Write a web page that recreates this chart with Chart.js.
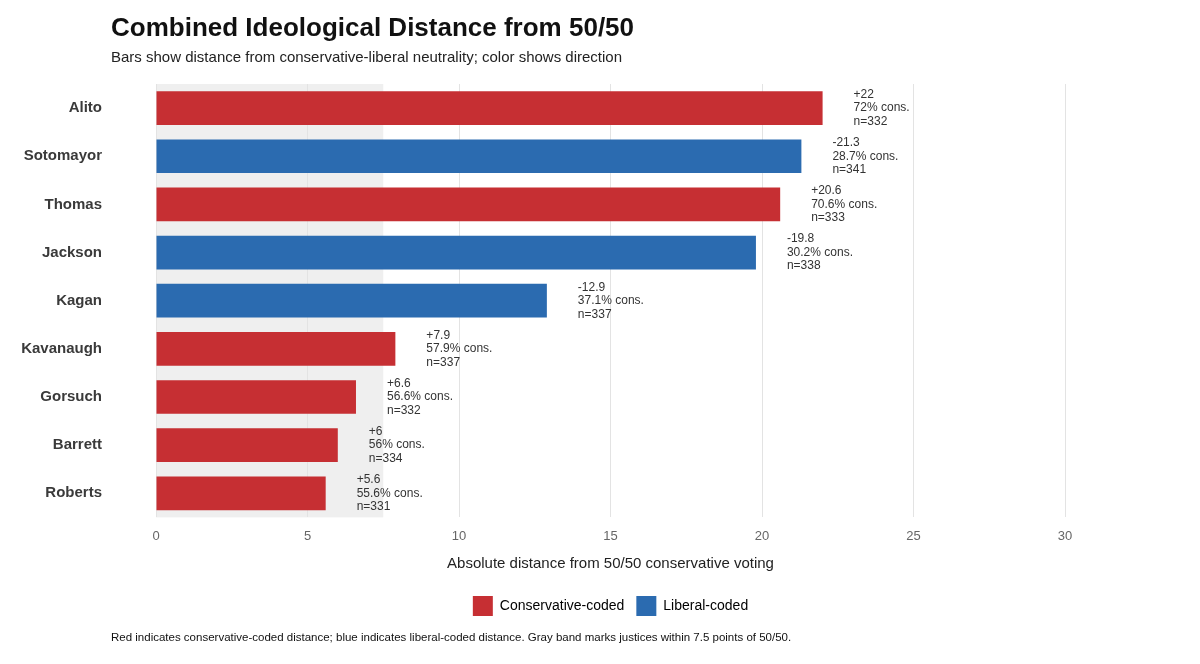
<!DOCTYPE html>
<html>
<head>
<meta charset="utf-8">
<script src="https://cdn.jsdelivr.net/npm/chart.js@4/dist/chart.umd.min.js"></script>
<style>
  html, body { margin: 0; padding: 0; background: #fff; }
  body { width: 1200px; height: 664px; position: relative; overflow: hidden; font-family: "Liberation Sans", Arial, sans-serif; }
  #wrap { position: absolute; left: 0; top: 0; width: 1200px; height: 664px; }
  .title { position: absolute; left: 111px; top: 12px; font-size: 26px; font-weight: bold; color: #111; white-space: nowrap; }
  .subtitle { position: absolute; left: 111px; top: 48px; font-size: 15px; color: #222; white-space: nowrap; }
  .caption { position: absolute; left: 111px; top: 631px; font-size: 11.5px; color: #111; white-space: nowrap; }
</style>
</head>
<body>
<div id="wrap"><canvas id="chart" width="1200" height="664"></canvas></div>
<div class="title">Combined Ideological Distance from 50/50</div>
<div class="subtitle">Bars show distance from conservative-liberal neutrality; color shows direction</div>
<div class="caption">Red indicates conservative-coded distance; blue indicates liberal-coded distance. Gray band marks justices within 7.5 points of 50/50.</div>
<script>
const justices  = ['Alito', 'Sotomayor', 'Thomas', 'Jackson', 'Kagan', 'Kavanaugh', 'Gorsuch', 'Barrett', 'Roberts'];
const distance  = [22, 21.3, 20.6, 19.8, 12.9, 7.9, 6.6, 6, 5.6];
const direction = ['cons', 'lib', 'cons', 'lib', 'lib', 'cons', 'cons', 'cons', 'cons'];
const consPct   = [72, 28.7, 70.6, 30.2, 37.1, 57.9, 56.6, 56, 55.6];
const nCases    = [332, 341, 333, 338, 337, 337, 332, 334, 331];
const xTicks    = [0, 5, 10, 15, 20, 25, 30];
const neutralBand = 7.5;

const RED = '#c62f33';
const BLUE = '#2b6bb0';
const FONT = '"Liberation Sans", Arial, sans-serif';

// gray band behind the grid
const bandPlugin = {
  id: 'band',
  beforeDraw(chart) {
    const { ctx, chartArea, scales } = chart;
    const x0 = scales.x.getPixelForValue(0);
    const x1 = scales.x.getPixelForValue(neutralBand);
    ctx.save();
    ctx.fillStyle = '#efefef';
    ctx.fillRect(x0, chartArea.top, x1 - x0, chartArea.bottom - chartArea.top);
    ctx.restore();
  }
};

// center the legend under the plot panel rather than the whole canvas
const legendShift = {
  id: 'legendShift',
  afterLayout(chart) {
    const lg = chart.legend;
    if (!lg) return;
    const panelMid = (chart.chartArea.left + chart.chartArea.right) / 2;
    const dx = panelMid - (lg.left + lg.right) / 2;
    lg.left += dx;
    lg.right += dx;
  }
};

// three-line labels to the right of each bar
const labelPlugin = {
  id: 'barLabels',
  afterDatasetsDraw(chart) {
    const { ctx } = chart;
    const meta = chart.getDatasetMeta(0);
    ctx.save();
    ctx.font = '12px ' + FONT;
    ctx.fillStyle = '#333';
    ctx.textAlign = 'left';
    ctx.textBaseline = 'middle';
    meta.data.forEach((bar, i) => {
      const sign = direction[i] === 'cons' ? '+' : '-';
      const lines = [sign + distance[i], consPct[i] + '% cons.', 'n=' + nCases[i]];
      const x = bar.x + 31;
      lines.forEach((t, j) => ctx.fillText(t, x, bar.y + (j - 1) * 13.5));
    });
    ctx.restore();
  }
};

new Chart(document.getElementById('chart'), {
  type: 'bar',
  data: {
    labels: justices,
    datasets: [{
      data: distance,
      backgroundColor: direction.map(d => d === 'cons' ? RED : BLUE),
      borderWidth: 0,
      barPercentage: 0.7,
      categoryPercentage: 1,
    }]
  },
  options: {
    indexAxis: 'y',
    responsive: false,
    animation: false,
    layout: { padding: { top: 84, left: 0, right: 135, bottom: 38 } },
    plugins: {
      tooltip: { enabled: false },
      legend: {
        display: true,
        position: 'bottom',
        labels: {
          boxWidth: 20,
          boxHeight: 20,
          padding: 12,
          color: '#222',
          font: { family: FONT, size: 14 },
          generateLabels: () => [
            { text: 'Conservative-coded', fillStyle: RED, strokeStyle: RED, lineWidth: 0 },
            { text: 'Liberal-coded', fillStyle: BLUE, strokeStyle: BLUE, lineWidth: 0 },
          ],
        },
      },
    },
    scales: {
      x: {
        min: 0,
        max: 30,
        afterBuildTicks: s => { s.ticks = xTicks.map(v => ({ value: v })); },
        grid: { color: '#e3e3e3', drawTicks: false },
        border: { display: false },
        ticks: { color: '#666', padding: 11, font: { family: FONT, size: 13 } },
        title: {
          display: true,
          text: 'Absolute distance from 50/50 conservative voting',
          color: '#222',
          padding: { top: 0, bottom: 11 },
          font: { family: FONT, size: 15 },
        },
      },
      y: {
        afterFit: s => { s.width = 156; },
        grid: { display: false, drawTicks: false },
        border: { display: false },
        ticks: {
          color: '#3a3a3a',
          padding: 54,
          font: { family: FONT, size: 15, weight: 'bold' },
        },
      },
    },
  },
  plugins: [bandPlugin, legendShift, labelPlugin],
});
</script>
</body>
</html>
